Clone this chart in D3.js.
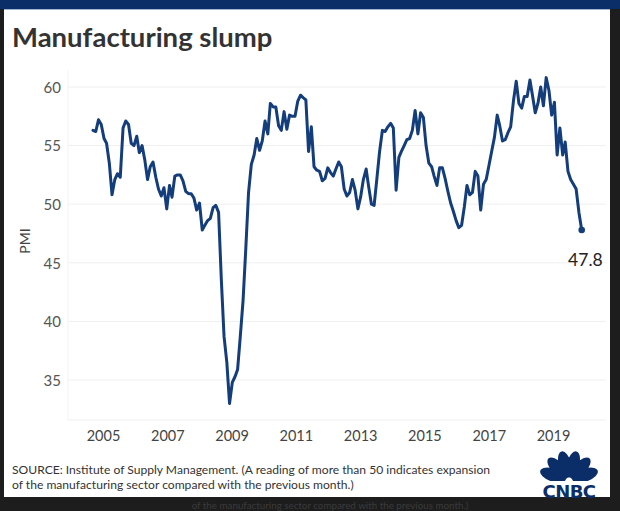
<!DOCTYPE html>
<html>
<head>
<meta charset="utf-8">
<script src="https://cdn.jsdelivr.net/npm/d3@7"></script>
<style>
  html, body { margin: 0; padding: 0; background: #1e1e1e; }
  svg { display: block; }
</style>
</head>
<body>
<svg id="chart" width="620" height="511"></svg>
<script>
// ---- DATA ----
const startMonth = "2004-10";   // first monthly reading
const pmiValues = [
  56.3, 56.2, 57.2,
  56.8, 55.6, 55.2, 53.5, 50.8, 52.1, 52.6, 52.3, 56.5, 57.1, 56.8, 55.2,
  55.0, 55.8, 54.4, 55.0, 53.8, 52.1, 53.2, 53.6, 52.3, 51.3, 50.7, 51.4,
  49.6, 51.6, 50.6, 52.4, 52.5, 52.5, 52.0, 51.1, 50.9, 50.9, 50.5, 49.5,
  50.1, 47.8, 48.2, 48.6, 48.8, 49.7, 49.9, 49.3, 43.5, 38.7, 36.5, 33.0,
  34.8, 35.3, 35.9, 38.8, 41.8, 46.3, 51.0, 53.4, 54.2, 55.6, 54.6, 55.4,
  57.1, 56.0, 58.6, 58.3, 58.3, 56.7, 56.3, 57.9, 56.4, 57.6, 57.5, 57.5,
  58.8, 59.3, 59.1, 58.9, 54.5, 56.6, 53.2, 52.9, 52.8, 52.0, 52.2, 53.1,
  52.7, 52.4, 53.0, 53.6, 53.2, 51.3, 50.7, 51.0, 52.1, 51.2, 49.6, 50.6,
  52.1, 53.0, 51.5, 50.0, 49.9, 52.2, 54.5, 56.3, 56.2, 56.6, 56.9, 56.5,
  51.2, 54.0, 54.5, 55.0, 55.5, 55.6, 56.3, 58.0, 56.0, 57.8, 57.4, 55.0,
  53.5, 53.2, 52.4, 51.6, 53.1, 53.1, 52.2, 51.1, 50.1, 49.4, 48.6, 48.0,
  48.2, 49.8, 51.6, 50.8, 51.0, 52.8, 52.4, 49.5, 51.7, 52.1, 53.3, 54.5,
  55.7, 57.6, 56.7, 55.4, 55.5, 56.1, 56.6, 58.8, 60.5, 58.6, 58.2, 59.2,
  59.2, 60.6, 59.3, 57.8, 58.6, 60.0, 58.4, 60.8, 59.7, 57.6, 58.7, 54.2,
  56.5, 54.2, 55.3, 52.8, 52.1, 51.7, 51.3, 49.3, 47.8
];
const yTicks = [35, 40, 45, 50, 55, 60];
const xTickLabels = ["2005", "2007", "2009", "2011", "2013", "2015", "2017", "2019"];
const titleText = "Manufacturing slump";
const yAxisTitle = "PMI";
const sourceLines = [
  "SOURCE: Institute of Supply Management. (A reading of more than 50 indicates expansion",
  "of the manufacturing sector compared with the previous month.)"
];
const ghostLine = "of the manufacturing sector compared with the previous month.)";

// ---- BUILD ----
const parseMonth = d3.timeParse("%Y-%m");
const start = parseMonth(startMonth);
const data = pmiValues.map((v, i) => ({ date: d3.timeMonth.offset(start, i), value: v }));

const svg = d3.select("#chart");
const W = 620, H = 511;
const FONT = "Lato, 'Open Sans', sans-serif";

// frame
svg.append("rect").attr("x", 0).attr("y", 0).attr("width", W).attr("height", H).attr("fill", "#1d1d1d");
// ghost text below frame
svg.append("text").attr("x", 330).attr("y", 509).attr("text-anchor", "middle")
  .attr("font-family", FONT).attr("font-size", 9.8)
  .attr("fill", "#3b3b3b").text(ghostLine);
svg.append("rect").attr("x", 4).attr("y", 9).attr("width", 606).attr("height", 488).attr("fill", "#ffffff");
svg.append("rect").attr("x", 0).attr("y", 0).attr("width", W).attr("height", 9).attr("fill", "#0b2d68");
svg.append("rect").attr("x", 4).attr("y", 9).attr("width", 606).attr("height", 1).attr("fill", "#9db4d3");

// title
svg.append("text").attr("x", 12).attr("y", 47)
  .attr("font-family", FONT).attr("font-weight", 700)
  .attr("font-size", 27.5).attr("fill", "#333333").text(titleText);

// scales
const x = d3.scaleTime()
  .domain([data[0].date, data[data.length - 1].date])
  .range([93, 581.7]);
const y = d3.scaleLinear().domain([35, 60]).range([380, 87]);
const yBottom = 420, plotLeft = 68, plotRight = 606;
const xLab = d3.scalePoint().domain(xTickLabels).range([103, 553]);

// grid
const g = svg.append("g");
g.selectAll("line.grid").data(yTicks).join("line")
  .attr("x1", plotLeft).attr("x2", plotRight)
  .attr("y1", d => y(d)).attr("y2", d => y(d))
  .attr("stroke", "#efefef").attr("stroke-width", 1);
g.append("line").attr("x1", plotLeft).attr("x2", plotRight).attr("y1", yBottom).attr("y2", yBottom)
  .attr("stroke", "#efefef");
g.append("line").attr("x1", plotLeft).attr("x2", plotLeft).attr("y1", 70).attr("y2", yBottom)
  .attr("stroke", "#f3f3f3");

// y axis labels
const yAxis = d3.axisLeft(y).tickValues(yTicks).tickSize(0).tickPadding(0);
const ya = svg.append("g").attr("transform", "translate(61,0)").call(yAxis);
ya.select(".domain").remove();
ya.selectAll("text").attr("font-family", FONT)
  .attr("font-size", 15).attr("fill", "#555555").attr("dy", "0.35em");

svg.append("text").attr("transform", "translate(30,241) rotate(-90)")
  .attr("text-anchor", "middle")
  .attr("font-family", FONT).attr("font-size", 14)
  .attr("fill", "#444444").text(yAxisTitle);

// x axis labels
const xAxis = d3.axisBottom(xLab).tickSize(0).tickPadding(0);
const xa = svg.append("g").attr("transform", "translate(0,431)").call(xAxis);
xa.select(".domain").remove();
xa.selectAll("text").attr("font-family", FONT)
  .attr("font-size", 14.5).attr("fill", "#444444").attr("dy", "0.71em");

// line
const line = d3.line().x(d => x(d.date)).y(d => y(d.value)).curve(d3.curveLinear);
svg.append("path").datum(data).attr("d", line)
  .attr("fill", "none").attr("stroke", "#143d7b").attr("stroke-width", 3)
  .attr("stroke-linejoin", "round").attr("stroke-linecap", "round");

const last = data[data.length - 1];
svg.append("circle").attr("cx", x(last.date)).attr("cy", y(last.value)).attr("r", 3.3)
  .attr("fill", "#143d7b");
svg.append("text").attr("x", x(last.date) + 21).attr("y", y(last.value) + 36)
  .attr("text-anchor", "end")
  .attr("font-family", FONT).attr("font-size", 17.5)
  .attr("fill", "#222222").text(d3.format(".1f")(last.value));

// source
svg.append("g").selectAll("text").data(sourceLines).join("text")
  .attr("x", 12).attr("y", (d, i) => 474 + i * 15)
  .attr("font-family", FONT).attr("font-size", 12.1)
  .attr("fill", "#333333").text(d => d);

// CNBC logo
const logo = svg.append("g").attr("transform", "translate(569,481)");
const feathers = [-70, -42, -14, 14, 42, 70];
logo.selectAll("ellipse").data(feathers).join("ellipse")
  .attr("cx", 0).attr("cy", -17).attr("rx", 6.4).attr("ry", 13.5)
  .attr("transform", d => `rotate(${d})`)
  .attr("fill", "#0b2d68");
logo.append("rect").attr("x", -34).attr("y", 0).attr("width", 68).attr("height", 4).attr("fill", "#ffffff");
logo.append("text").attr("x", 0).attr("y", 16.5).attr("text-anchor", "middle")
  .attr("font-family", "'DejaVu Sans', Lato, sans-serif").attr("font-weight", 900)
  .attr("font-size", 18).attr("letter-spacing", -0.6).attr("fill", "#0b2d68").text("CNBC");
</script>
</body>
</html>
